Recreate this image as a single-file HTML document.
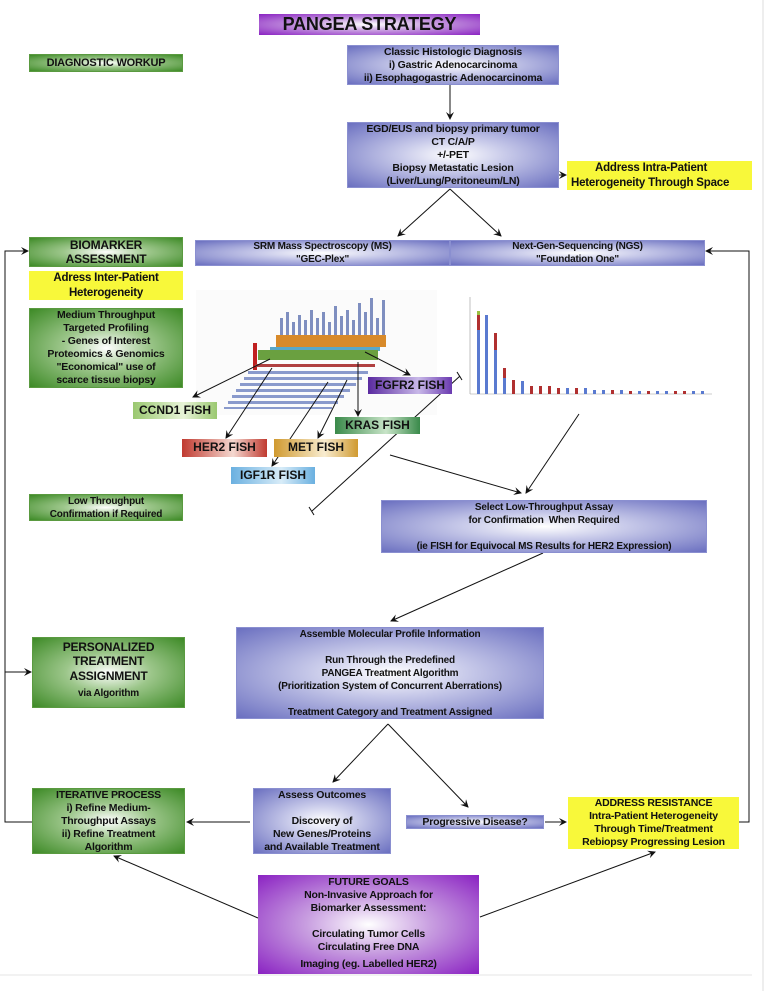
<!DOCTYPE html>
<html><head><meta charset="utf-8"><style>
body{margin:0;background:#fff;}
#c{position:relative;width:767px;height:991px;overflow:hidden;font-family:"Liberation Sans",Arial,sans-serif;font-weight:bold;color:#111;}
.b{position:absolute;box-sizing:border-box;text-align:center;font-size:10px;line-height:13px;letter-spacing:-0.2px;display:flex;flex-direction:column;justify-content:center;white-space:nowrap;}
.blue{background:radial-gradient(ellipse at center,#fff 0%,#c9cbea 35%,#6a6fc0 100%);border:1px solid #8a8fd0;}
.green{background:radial-gradient(ellipse at center,#fff 0%,#9cc68a 40%,#3d8a26 100%);border:1px solid #5a9a40;}
.yellow{background:#f8f83a;}
.purple{background:radial-gradient(ellipse at center,#fff 0%,#c89ee0 40%,#8a22c2 100%);}
.f{position:absolute;box-sizing:border-box;font-size:12px;text-align:center;line-height:17px;}
svg{position:absolute;left:0;top:0;}
</style></head><body><div id="c">
<svg width="767" height="991" viewBox="0 0 767 991">
<defs><marker id="a" markerWidth="8" markerHeight="8" refX="7" refY="4" orient="auto" markerUnits="userSpaceOnUse"><path d="M0,0 L8,4 L0,8 L3,4 z" fill="#111"/></marker></defs>
<line x1="763" y1="0" x2="763" y2="991" stroke="#ddd"/>
<line x1="0" y1="975" x2="752" y2="975" stroke="#e6e6e6"/>
<g>
<rect x="196" y="290" width="241" height="125" fill="#fbfbfb"/>
<g fill="#7f8fc0">
<rect x="280" y="318" width="3" height="28"/><rect x="286" y="312" width="3" height="34"/><rect x="292" y="322" width="3" height="24"/><rect x="298" y="315" width="3" height="31"/><rect x="304" y="320" width="3" height="26"/><rect x="310" y="310" width="3" height="36"/><rect x="316" y="318" width="3" height="28"/><rect x="322" y="312" width="3" height="34"/><rect x="328" y="322" width="3" height="24"/><rect x="334" y="306" width="3" height="40"/><rect x="340" y="316" width="3" height="30"/><rect x="346" y="310" width="3" height="36"/><rect x="352" y="320" width="3" height="26"/><rect x="358" y="303" width="3" height="43"/><rect x="364" y="312" width="3" height="34"/><rect x="370" y="298" width="3" height="48"/><rect x="376" y="318" width="3" height="28"/><rect x="382" y="300" width="3" height="46"/>
</g>
<g fill="#d88a2a"><rect x="276" y="335" width="110" height="12"/></g>
<g fill="#5aa8c8"><rect x="270" y="347" width="110" height="4"/></g>
<g fill="#6aa040"><rect x="258" y="350" width="120" height="10"/></g>
<rect x="253" y="343" width="4" height="27" fill="#c02020"/>
<g fill="#b04040"><rect x="255" y="364" width="120" height="3"/></g>
<g fill="#8a9acc"><rect x="248" y="371" width="120" height="3"/><rect x="244" y="377" width="118" height="3"/><rect x="240" y="383" width="116" height="3"/><rect x="236" y="389" width="114" height="3"/><rect x="232" y="395" width="112" height="3"/><rect x="228" y="401" width="110" height="3"/><rect x="224" y="407" width="108" height="2"/></g>
</g>
<g>
<line x1="470" y1="297" x2="470" y2="394" stroke="#999" stroke-width="0.6"/>
<line x1="470" y1="394" x2="712" y2="394" stroke="#999" stroke-width="0.6"/>
<rect x="477" y="330" width="3" height="64" fill="#5a7ad0"/><rect x="477" y="315" width="3" height="15" fill="#b03030"/><rect x="477" y="311" width="3" height="4" fill="#9ac040"/>
<rect x="485" y="315" width="3" height="79" fill="#5a7ad0"/>
<rect x="494" y="350" width="3" height="44" fill="#5a7ad0"/><rect x="494" y="333" width="3" height="17" fill="#b03030"/>
<rect x="503" y="378" width="3" height="16" fill="#5a7ad0"/><rect x="503" y="368" width="3" height="10" fill="#b03030"/>
<rect x="512" y="380" width="3" height="14" fill="#b03030"/><rect x="521" y="381" width="3" height="13" fill="#5a7ad0"/>
<g fill="#b03030"><rect x="530" y="386" width="3" height="8"/><rect x="539" y="386" width="3" height="8"/><rect x="548" y="386" width="3" height="8"/><rect x="557" y="388" width="3" height="6"/><rect x="575" y="388" width="3" height="6"/><rect x="611" y="390" width="3" height="4"/><rect x="629" y="391" width="3" height="3"/><rect x="647" y="391" width="3" height="3"/><rect x="674" y="391" width="3" height="3"/><rect x="683" y="391" width="3" height="3"/></g>
<g fill="#5a7ad0"><rect x="566" y="388" width="3" height="6"/><rect x="584" y="388" width="3" height="6"/><rect x="593" y="390" width="3" height="4"/><rect x="602" y="390" width="3" height="4"/><rect x="620" y="390" width="3" height="4"/><rect x="638" y="391" width="3" height="3"/><rect x="656" y="391" width="3" height="3"/><rect x="665" y="391" width="3" height="3"/><rect x="692" y="391" width="3" height="3"/><rect x="701" y="391" width="3" height="3"/></g>
</g>
<g stroke="#111" stroke-width="1" fill="none">
<line x1="450" y1="85" x2="450" y2="119" marker-end="url(#a)"/>
<line x1="530" y1="175" x2="566" y2="175" marker-end="url(#a)"/>
<line x1="450" y1="189" x2="398" y2="236" marker-end="url(#a)"/>
<line x1="450" y1="189" x2="501" y2="236" marker-end="url(#a)"/>
<polyline points="32,822 5,822 5,251 28,251" marker-end="url(#a)"/>
<line x1="5" y1="672" x2="31" y2="672" marker-end="url(#a)"/>
<polyline points="739,822 749,822 749,251 706,251" marker-end="url(#a)"/>
<line x1="270" y1="359" x2="193" y2="397" marker-end="url(#a)"/>
<line x1="272" y1="368" x2="226" y2="438" marker-end="url(#a)"/>
<line x1="328" y1="382" x2="272" y2="466" marker-end="url(#a)"/>
<line x1="347" y1="380" x2="318" y2="438" marker-end="url(#a)"/>
<line x1="358" y1="362" x2="358" y2="416" marker-end="url(#a)"/>
<line x1="365" y1="352" x2="410" y2="375" marker-end="url(#a)"/>
<line x1="460" y1="376" x2="312" y2="511"/>
<line x1="457" y1="372" x2="462" y2="380"/><line x1="309" y1="507" x2="314" y2="515"/>
<line x1="390" y1="455" x2="521" y2="493" marker-end="url(#a)"/>
<line x1="579" y1="414" x2="526" y2="493" marker-end="url(#a)"/>
<line x1="543" y1="553" x2="391" y2="621" marker-end="url(#a)"/>
<line x1="388" y1="724" x2="333" y2="782" marker-end="url(#a)"/>
<line x1="388" y1="724" x2="468" y2="807" marker-end="url(#a)"/>
<line x1="250" y1="822" x2="187" y2="822" marker-end="url(#a)"/>
<line x1="545" y1="822" x2="566" y2="822" marker-end="url(#a)"/>
<line x1="258" y1="918" x2="114" y2="856" marker-end="url(#a)"/>
<line x1="480" y1="917" x2="655" y2="852" marker-end="url(#a)"/>
</g>
</svg>

<div class="b purple" style="left:259px;top:14px;width:221px;height:21px;font-size:18px;">PANGEA STRATEGY</div>
<div class="b green" style="left:29px;top:54px;width:154px;height:18px;font-size:11px;">DIAGNOSTIC WORKUP</div>
<div class="b blue" style="left:347px;top:45px;width:212px;height:40px;font-size:10.5px;">Classic Histologic Diagnosis<br>i) Gastric Adenocarcinoma<br>ii) Esophagogastric Adenocarcinoma</div>
<div class="b blue" style="left:347px;top:122px;width:212px;height:66px;font-size:10.5px;">EGD/EUS and biopsy primary tumor<br>CT C/A/P<br>+/-PET<br>Biopsy Metastatic Lesion<br>(Liver/Lung/Peritoneum/LN)</div>
<div class="b yellow" style="left:567px;top:161px;width:185px;height:29px;font-size:11.5px;line-height:15px;align-items:flex-start;padding-left:4px;overflow:hidden;"><span style="padding-left:24px">Address Intra-Patient</span><span>Heterogeneity Through Space</span></div>
<div class="b green" style="left:29px;top:237px;width:154px;height:30px;font-size:12px;line-height:14px;">BIOMARKER<br>ASSESSMENT</div>
<div class="b yellow" style="left:29px;top:271px;width:154px;height:29px;font-size:11.5px;line-height:15px;">Adress Inter-Patient<br>Heterogeneity</div>
<div class="b green" style="left:29px;top:308px;width:154px;height:80px;font-size:10.5px;">Medium Throughput<br>Targeted Profiling<br>- Genes of Interest<br>Proteomics &amp; Genomics<br>"Economical" use of<br>scarce tissue biopsy</div>
<div class="b blue" style="left:195px;top:240px;width:255px;height:26px;">SRM Mass Spectroscopy (MS)<br>"GEC-Plex"</div>
<div class="b blue" style="left:450px;top:240px;width:255px;height:26px;">Next-Gen-Sequencing (NGS)<br>"Foundation One"</div>
<div class="f" style="left:368px;top:377px;width:84px;height:17px;background:linear-gradient(90deg,#5a2aa0,#c8b8e8 60%,#6a3ab0);">FGFR2 FISH</div>
<div class="f" style="left:133px;top:402px;width:84px;height:17px;background:linear-gradient(90deg,#9ac870,#e8f4d8 60%,#9ac870);">CCND1 FISH</div>
<div class="f" style="left:335px;top:417px;width:85px;height:17px;background:linear-gradient(90deg,#3a8a4a,#c8e4c8 60%,#3a8a4a);">KRAS FISH</div>
<div class="f" style="left:182px;top:439px;width:85px;height:18px;background:linear-gradient(90deg,#c03a30,#f4d8d0 60%,#c03a30);">HER2 FISH</div>
<div class="f" style="left:274px;top:439px;width:84px;height:18px;background:linear-gradient(90deg,#d09a30,#f8ecd0 60%,#d09a30);">MET FISH</div>
<div class="f" style="left:231px;top:467px;width:84px;height:17px;background:linear-gradient(90deg,#6ab0e0,#d8ecf8 60%,#6ab0e0);">IGF1R FISH</div>
<div class="b green" style="left:29px;top:494px;width:154px;height:27px;">Low Throughput<br>Confirmation if Required</div>
<div class="b blue" style="left:381px;top:500px;width:326px;height:53px;">Select Low-Throughput Assay<br>for Confirmation&nbsp; When Required<br><br>(ie FISH for Equivocal MS Results for HER2 Expression)</div>
<div class="b blue" style="left:236px;top:627px;width:308px;height:92px;">Assemble Molecular Profile Information<br><br>Run Through the Predefined<br>PANGEA Treatment Algorithm<br>(Prioritization System of Concurrent Aberrations)<br><br>Treatment Category and Treatment Assigned</div>
<div class="b green" style="left:32px;top:637px;width:153px;height:71px;font-size:12px;line-height:14.5px;">PERSONALIZED<br>TREATMENT<br>ASSIGNMENT<br><span style="font-size:10px;line-height:22px">via Algorithm</span></div>
<div class="b green" style="left:32px;top:788px;width:153px;height:66px;font-size:10.5px;">ITERATIVE PROCESS<br>i) Refine Medium-<br>Throughput Assays<br>ii) Refine Treatment<br>Algorithm</div>
<div class="b blue" style="left:253px;top:788px;width:138px;height:66px;font-size:10.5px;">Assess Outcomes<br><br>Discovery of<br>New Genes/Proteins<br>and Available Treatment</div>
<div class="b blue" style="left:406px;top:815px;width:138px;height:14px;font-size:10.5px;">Progressive Disease?</div>
<div class="b yellow" style="left:568px;top:797px;width:171px;height:52px;font-size:10.5px;">ADDRESS RESISTANCE<br>Intra-Patient Heterogeneity<br>Through Time/Treatment<br>Rebiopsy Progressing Lesion</div>
<div class="b purple" style="left:258px;top:875px;width:221px;height:99px;font-size:10.5px;">FUTURE GOALS<br>Non-Invasive Approach for<br>Biomarker Assessment:<br><br>Circulating Tumor Cells<br>Circulating Free DNA<br><span style="line-height:20px">Imaging (eg. Labelled HER2)</span></div>
</div></body></html>
